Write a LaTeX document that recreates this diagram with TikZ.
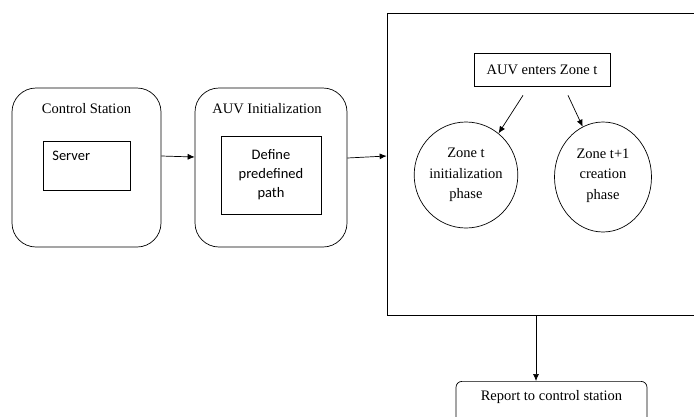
\documentclass[tikz,border=0pt]{standalone}
\usepackage{fontspec}
\setmainfont{Liberation Serif}
\newfontfamily\calibrifont{Carlito}
\usetikzlibrary{positioning,shapes.geometric,arrows.meta}
\newcommand\lbl{\fontsize{14.5}{20.5}\selectfont}

\begin{document}
\begin{tikzpicture}[x=1pt,y=-1pt,line width=0.7pt,
    >={Latex[length=7pt,width=6pt]},
    station/.style={draw,rounded corners=24pt,minimum height=159pt},
    innerbox/.style={draw,inner sep=0pt,font=\calibrifont\lbl},
    phase/.style={draw,ellipse,inner sep=0pt,align=center,font=\lbl},
    plain/.style={draw,inner sep=0pt,font=\lbl}]
        \clip (0,0) rectangle (694,416);
        % left blocks
        \node[station,minimum width=149pt] (cs) at (86.5,167.5) {};
        \node[font=\lbl] (cstitle) at (86.5,109) {Control Station};
        \node[innerbox,minimum width=87pt,minimum height=49pt] (server) at (86.5,165.5) {};
        \node[anchor=north west,inner sep=0pt,font=\calibrifont\lbl] (servertxt) at (52,151) {Server};
        \node[station,minimum width=152pt] (init) at (271,167.5) {};
        \node[font=\lbl] (inittitle) at (267,109) {AUV Initialization};
        \node[innerbox,minimum width=100pt,minimum height=78pt,align=center,
              font=\calibrifont\fontsize{14.5}{19}\selectfont] (path) at (271,175) {Define\\predefined\\path};
        % zone block
        \node[draw,minimum width=309pt,minimum height=302pt] (zone) at (541.5,164) {};
        \node[plain,minimum width=136pt,minimum height=33pt] (enters) at (542,69.5) {AUV enters Zone t};
        \node[phase,minimum width=102pt,minimum height=106pt] (zt) at (466,175) {Zone t\\initialization\\phase};
        \node[phase,minimum width=97pt,minimum height=110pt,text depth=6pt] (znext) at (603,177) {Zone t+1\\creation\\phase};
        % report
        \node[draw,rounded corners=6pt,anchor=north,minimum width=191pt,inner ysep=9pt,
              text depth=30pt,font=\lbl] (report) at (551.5,381) {Report to control station};
        % arrows
        \draw[->] ([yshift=11.5pt]cs.east) -- ([yshift=10.5pt]init.west);
        \draw[->] ([yshift=9.5pt]init.east) -- ([yshift=8pt]zone.west);
        \draw[->] ([xshift=-19pt,yshift=-9pt]enters.south) -- (zt.52);
        \draw[->] ([xshift=26pt,yshift=-9pt]enters.south) -- (znext.112);
        \draw[->] ([xshift=-5.5pt]zone.south) -- ([xshift=-15.5pt]report.north);
\end{tikzpicture}
\end{document}
